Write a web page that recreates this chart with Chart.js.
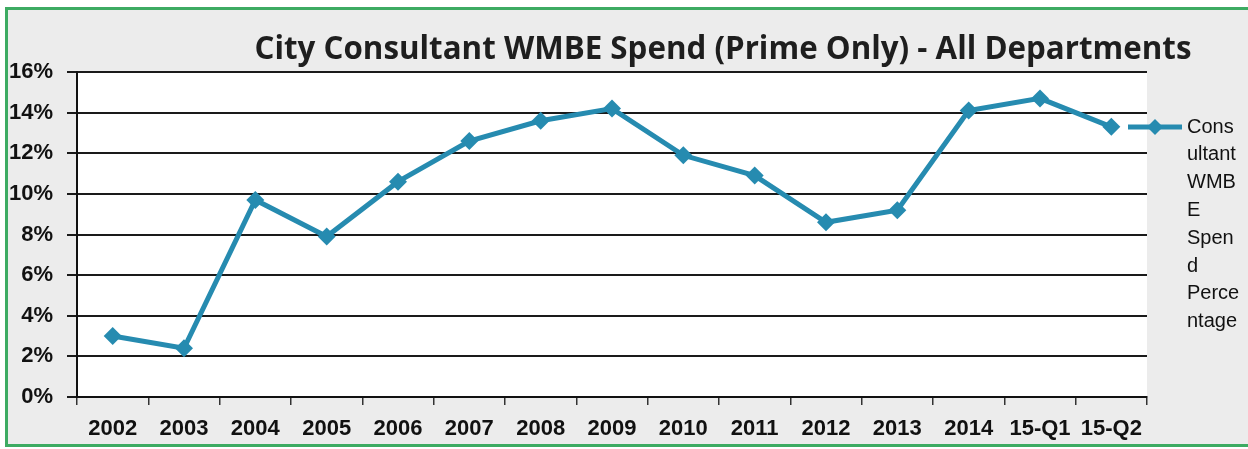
<!DOCTYPE html>
<html><head><meta charset="utf-8">
<script src="https://cdn.jsdelivr.net/npm/chart.js@4/dist/chart.umd.min.js"></script>
<style>
html,body{margin:0;padding:0;background:#fff;width:1248px;height:449px;overflow:hidden}
#wrap{position:absolute;left:5px;top:7px;width:1240px;height:434px;border:3px solid #3dab62;border-right:none;background:#ececec}
canvas{display:block}
</style></head><body>
<div id="wrap"><canvas id="c" width="1240" height="434"></canvas></div>
<script>
const TITLE = "City Consultant WMBE Spend (Prime Only) - All Departments";
const CATEGORIES = ["2002","2003","2004","2005","2006","2007","2008","2009","2010","2011","2012","2013","2014","15-Q1","15-Q2"];
const SERIES_NAME = "Consultant WMBE Spend Percentage";
const VALUES = [3.0,2.4,9.7,7.9,10.6,12.6,13.6,14.2,11.9,10.9,8.6,9.2,14.1,14.7,13.3];
const LEGEND_LINES = ["Cons","ultant","WMB","E","Spen","d","Perce","ntage"];
const Y_MIN = 0, Y_MAX = 16, Y_STEP = 2;

const LINE_COLOR = '#268bb0';
const AXIS_FONT = "'Liberation Sans',Arial,sans-serif";

const decor = {
  id: 'decor',
  beforeDraw(chart) {
    const {ctx, chartArea: a} = chart;
    ctx.save();
    ctx.fillStyle = '#ffffff';
    ctx.fillRect(a.left, a.top, a.right - a.left, a.bottom - a.top);
    ctx.restore();
  },
  afterDraw(chart) {
    const {ctx, chartArea: a, width: W} = chart;
    // title
    ctx.save();
    ctx.font = "bold 33px 'Open Sans','Noto Sans',sans-serif";
    ctx.fillStyle = '#1e1e1e';
    ctx.textBaseline = 'alphabetic';
    const tw = ctx.measureText(TITLE).width;
    const target = 937;
    const cx = 715;
    ctx.translate(cx - target / 2, 49);
    ctx.scale(target / tw, 1);
    ctx.fillText(TITLE, 0, 0);
    ctx.restore();
    // legend
    ctx.save();
    const ly = a.top + 55;
    const x0 = W - 120, x1 = W - 66, xm = (x0 + x1) / 2;
    ctx.strokeStyle = LINE_COLOR; ctx.lineWidth = 5;
    ctx.beginPath(); ctx.moveTo(x0, ly); ctx.lineTo(x1, ly); ctx.stroke();
    ctx.fillStyle = LINE_COLOR;
    const r = 8;
    ctx.beginPath(); ctx.moveTo(xm, ly - r); ctx.lineTo(xm + r, ly); ctx.lineTo(xm, ly + r); ctx.lineTo(xm - r, ly); ctx.closePath(); ctx.fill();
    ctx.fillStyle = '#111';
    ctx.font = "20px 'Liberation Sans',Arial,sans-serif";
    ctx.textBaseline = 'middle';
    LEGEND_LINES.forEach((t, i) => ctx.fillText(t, W - 61, ly + i * 27.8));
    ctx.restore();
  }
};

new Chart(document.getElementById('c'), {
  type: 'line',
  data: {
    labels: CATEGORIES,
    datasets: [{
      label: SERIES_NAME,
      data: VALUES,
      borderColor: LINE_COLOR,
      backgroundColor: LINE_COLOR,
      borderWidth: 5,
      pointStyle: 'rectRot',
      pointRadius: 9,
      pointBorderWidth: 0,
      tension: 0,
      fill: false
    }]
  },
  options: {
    responsive: false,
    animation: false,
    layout: {padding: {top: 62, right: 101, left: 0, bottom: 0}},
    plugins: {legend: {display: false}, title: {display: false}, tooltip: {enabled: false}},
    scales: {
      x: {
        offset: true,
        grid: {offset: true, drawOnChartArea: false, drawTicks: true, tickLength: 8, color: '#333', lineWidth: 1.5},
        border: {display: true, color: '#111', width: 2},
        ticks: {autoSkip: false, maxRotation: 0, padding: 11, color: '#111', font: {family: AXIS_FONT, size: 22, weight: 'bold'}},
        afterFit(s) { s.height = 47; }
      },
      y: {
        min: Y_MIN, max: Y_MAX,
        grid: {color: '#1a1a1a', lineWidth: 2, tickLength: 10},
        border: {display: true, color: '#111', width: 2},
        ticks: {stepSize: Y_STEP, padding: 14, color: '#111', font: {family: AXIS_FONT, size: 22, weight: 'bold'}, callback: v => v + '%'},
        afterFit(s) { s.width = 69; }
      }
    }
  },
  plugins: [decor]
});
</script>
</body></html>
